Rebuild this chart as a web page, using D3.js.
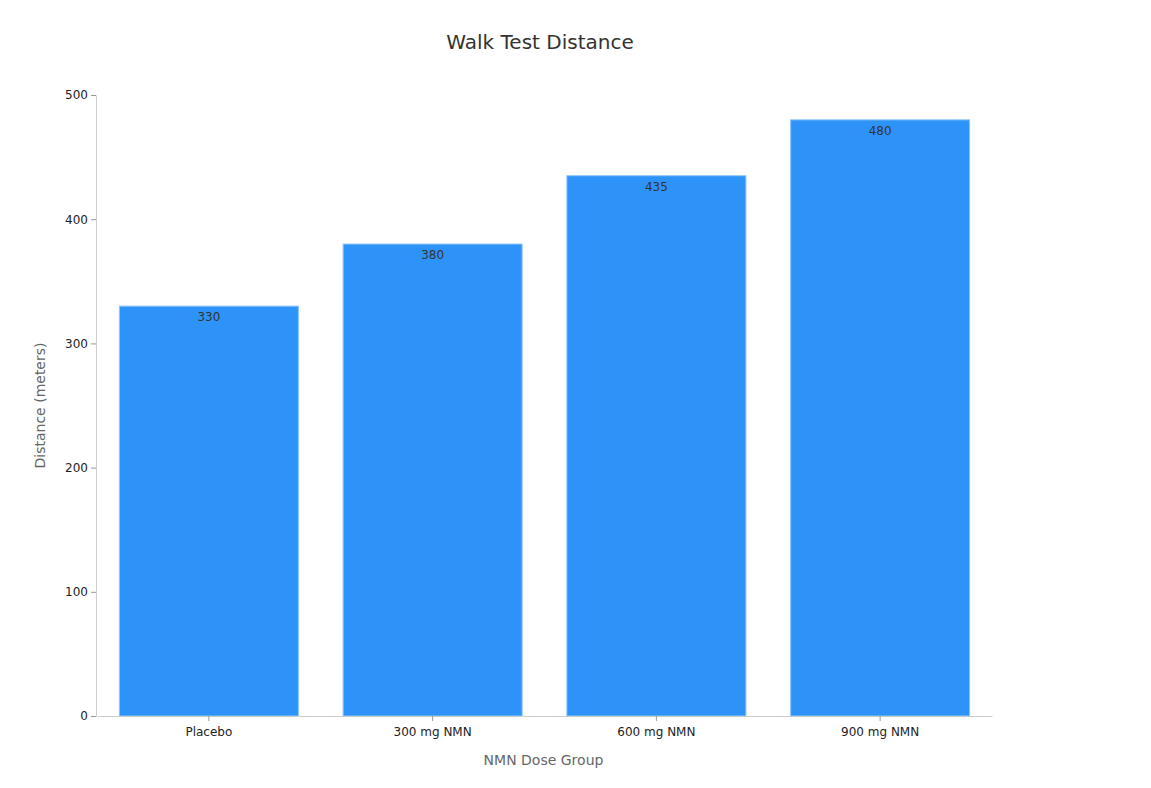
<!DOCTYPE html>
<html>
<head>
    <meta charset="UTF-8">
    <title>Walk Test Distance</title>
    <script type="text/javascript" src="https://d3js.org/d3.v7.min.js"></script>
    <style>
        body { margin: 0; background: #fff; }
        text { font-family: "DejaVu Sans", sans-serif; }
    </style>
</head>
<body>
<svg width="1151" height="788"></svg>
<script>
    // data
    var groups = ["Placebo", "300 mg NMN", "600 mg NMN", "900 mg NMN"];
    var distances = [330, 380, 435, 480];
    var yTicks = [0, 100, 200, 300, 400, 500];

    var marge = {top: 95, bottom: 72, left: 96, right: 160};
    var svg = d3.select("svg");
    var width = +svg.attr("width");
    var height = +svg.attr("height");
    var innerW = width - marge.left - marge.right;
    var innerH = height - marge.top - marge.bottom;

    var g = svg.append("g")
        .attr("transform", "translate(" + marge.left + "," + marge.top + ")");

    var xScale = d3.scaleBand()
        .domain(groups)
        .range([1, innerW + 1])
        .paddingInner(0.2)
        .paddingOuter(0.1);

    var yScale = d3.scaleLinear()
        .domain([0, 500])
        .range([innerH, 0]);

    // title
    svg.append("text")
        .attr("x", 540)
        .attr("y", 49)
        .attr("text-anchor", "middle")
        .attr("font-size", 20)
        .attr("fill", "#333")
        .text("Walk Test Distance");

    // bars
    g.selectAll(".bar")
        .data(distances)
        .enter()
        .append("rect")
        .attr("class", "bar")
        .attr("x", function (d, i) { return xScale(groups[i]); })
        .attr("y", function (d) { return yScale(d); })
        .attr("width", xScale.bandwidth())
        .attr("height", function (d) { return innerH - yScale(d); })
        .attr("fill", "#2e93f9")
        .attr("stroke", "#8cc4fb")
        .attr("stroke-width", 1);

    // value labels
    g.selectAll(".lbl")
        .data(distances)
        .enter()
        .append("text")
        .attr("class", "lbl")
        .attr("x", function (d, i) { return xScale(groups[i]) + xScale.bandwidth() / 2; })
        .attr("y", function (d) { return yScale(d) + 15; })
        .attr("text-anchor", "middle")
        .attr("font-size", 12)
        .attr("fill", "#333")
        .text(function (d) { return d; });

    // x axis
    var xAxis = g.append("g")
        .attr("transform", "translate(0," + innerH + ")")
        .call(d3.axisBottom(xScale).tickSize(5).tickSizeOuter(0).tickPadding(6));
    xAxis.select(".domain").attr("stroke", "#ccc");
    xAxis.selectAll(".tick line").attr("stroke", "#999");
    xAxis.selectAll(".tick text").attr("font-size", 12).attr("fill", "#222")
        .attr("font-family", "DejaVu Sans, sans-serif");

    // y axis
    var yAxis = g.append("g")
        .call(d3.axisLeft(yScale).tickValues(yTicks).tickSize(5).tickSizeOuter(0).tickPadding(3));
    yAxis.select(".domain").attr("stroke", "#ccc");
    yAxis.selectAll(".tick line").attr("stroke", "#999");
    yAxis.selectAll(".tick text").attr("font-size", 12).attr("fill", "#222")
        .attr("font-family", "DejaVu Sans, sans-serif");

    // axis titles
    svg.append("text")
        .attr("x", marge.left + innerW / 2)
        .attr("y", 765)
        .attr("text-anchor", "middle")
        .attr("font-size", 14)
        .attr("fill", "#666")
        .text("NMN Dose Group");

    svg.append("text")
        .attr("transform", "translate(45," + (marge.top + innerH / 2) + ") rotate(-90)")
        .attr("text-anchor", "middle")
        .attr("font-size", 14)
        .attr("fill", "#666")
        .text("Distance (meters)");
</script>
</body>
</html>
